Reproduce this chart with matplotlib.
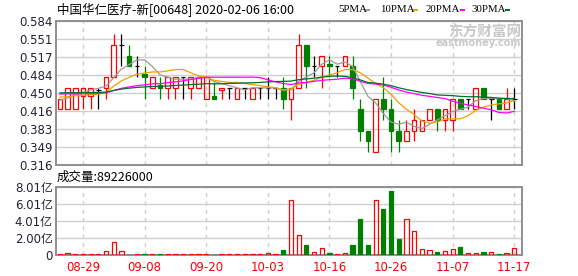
import numpy as np
import pandas as pd
import matplotlib
matplotlib.use('Agg')
import matplotlib.pyplot as plt
from matplotlib.patches import Rectangle

# ---------------- data ----------------
title = "中国华仁医疗-新[00648] 2020-02-06 16:00"
date_labels = ['08-29', '09-08', '09-20', '10-03', '10-16', '10-26', '11-07', '11-17']
date_index = [3, 11, 19, 27, 35, 43, 51, 59]

opens = [0.42, 0.42, 0.42, 0.445, 0.445, 0.455, 0.46, 0.48, 0.54, 0.52,
         0.50, 0.485, 0.46, 0.465, 0.46, 0.46, 0.48, 0.46, 0.46, 0.44,
         0.445, 0.455, 0.46, 0.44, 0.46, 0.44, 0.46, 0.46, 0.46, 0.46,
         0.44, 0.46, 0.54, 0.50, 0.50, 0.505, 0.50, 0.50, 0.50, 0.42,
         0.38, 0.34, 0.44, 0.42, 0.38, 0.36, 0.38, 0.38, 0.40, 0.42,
         0.40, 0.40, 0.44, 0.44, 0.42, 0.46, 0.44, 0.44, 0.42, 0.44]
highs = [0.44, 0.46, 0.46, 0.46, 0.46, 0.46, 0.48, 0.56, 0.56, 0.54,
         0.52, 0.50, 0.48, 0.48, 0.48, 0.48, 0.48, 0.48, 0.48, 0.48,
         0.47, 0.46, 0.46, 0.46, 0.46, 0.46, 0.46, 0.48, 0.46, 0.48,
         0.46, 0.56, 0.54, 0.52, 0.52, 0.52, 0.50, 0.52, 0.52, 0.44,
         0.38, 0.44, 0.48, 0.44, 0.40, 0.40, 0.42, 0.40, 0.42, 0.42,
         0.42, 0.44, 0.44, 0.44, 0.46, 0.46, 0.44, 0.44, 0.46, 0.46]
lows = [0.42, 0.42, 0.42, 0.42, 0.42, 0.42, 0.44, 0.48, 0.50, 0.50,
        0.48, 0.44, 0.46, 0.44, 0.44, 0.44, 0.44, 0.44, 0.46, 0.44,
        0.44, 0.44, 0.44, 0.44, 0.44, 0.44, 0.44, 0.44, 0.44, 0.42,
        0.40, 0.46, 0.46, 0.48, 0.46, 0.48, 0.48, 0.50, 0.44, 0.36,
        0.34, 0.34, 0.40, 0.34, 0.34, 0.36, 0.36, 0.38, 0.40, 0.38,
        0.38, 0.38, 0.42, 0.42, 0.42, 0.44, 0.40, 0.42, 0.42, 0.42]
closes = [0.44, 0.46, 0.46, 0.46, 0.46, 0.455, 0.48, 0.54, 0.54, 0.50,
          0.50, 0.48, 0.48, 0.46, 0.48, 0.48, 0.48, 0.48, 0.48, 0.48,
          0.44, 0.46, 0.46, 0.46, 0.46, 0.46, 0.46, 0.46, 0.46, 0.44,
          0.46, 0.54, 0.50, 0.50, 0.52, 0.50, 0.50, 0.52, 0.46, 0.38,
          0.36, 0.44, 0.42, 0.38, 0.36, 0.38, 0.40, 0.40, 0.42, 0.40,
          0.42, 0.44, 0.42, 0.44, 0.46, 0.44, 0.44, 0.42, 0.44, 0.44]
# closes before the visible window (only used for the moving averages)
prior_closes = [0.45, 0.46, 0.45, 0.46, 0.45, 0.46, 0.45, 0.46, 0.45,
                0.46, 0.45, 0.46, 0.45, 0.46, 0.45, 0.46, 0.45, 0.46,
                0.45, 0.45,
                0.45, 0.445, 0.45, 0.445, 0.45,
                0.44, 0.43, 0.44, 0.435]
volumes = [1.2e7, 2.5e7, 1.0e7, 1.0e7, 1.0e7, 1.0e7, 4.7e7, 1.52e8, 4.7e7, 0.8e7,
           1.0e7, 1.0e7, 1.0e7, 1.0e7, 1.0e7, 1.0e7, 1.0e7, 1.0e7, 1.0e7, 1.0e7,
           0.8e7, 1.0e7, 1.0e7, 1.0e7, 1.0e7, 1.0e7, 1.0e7, 2.5e7, 1.0e7, 5.8e7,
           6.42e8, 2.41e8, 1.17e8, 4.3e7, 9.0e7, 2.3e7, 1.0e7, 3.1e7, 1.17e8, 4.22e8,
           1.17e8, 6.40e8, 5.38e8, 7.48e8, 1.87e8, 4.28e8, 2.88e8, 7.8e7, 6.6e7, 3.5e7,
           5.4e7, 7.8e7, 9.3e7, 3.1e7, 3.1e7, 3.5e7, 4.3e7, 1.2e7, 3.1e7, 89226000]
last_volume = 89226000
price_tick_labels = ['0.316', '0.349', '0.383', '0.416', '0.450', '0.484', '0.517', '0.551', '0.584']
price_min, price_max = 0.316, 0.584
vol_max = 8.01e8
vol_tick_labels = ['0', '2.00亿', '4.01亿', '6.01亿', '8.01亿']
ma_periods = [5, 10, 20, 30]
ma_names = ['5PMA', '10PMA', '20PMA', '30PMA']

# ---------------- style ----------------
RED = '#ff0000'
GREEN = '#007f00'
MA_COLORS = ['#9b9b9b', '#f0a000', '#ff00ff', '#006e2e']
BORDER = '#8f8f8f'
GRID = '#cfcfcf'
TXT = '#222233'

W, H = 578, 276
fig = plt.figure(figsize=(W / 100, H / 100), dpi=100)


def fx(x):
    return x / W


def fy(y):
    return 1 - y / H


ax = fig.add_axes([fx(56), fy(165.0), fx(522) - fx(56), fy(21.3) - fy(165.0)])
axv = fig.add_axes([fx(56), fy(255.3), fx(522) - fx(56), fy(186.7) - fy(255.3)])

n = len(closes)
xs = np.arange(n)
bw = 0.6

for a in (ax, axv):
    a.set_xlim(-0.5, n)
    for s in a.spines.values():
        s.set_color(BORDER)
        s.set_linewidth(1.4)
    a.set_axisbelow(True)
    a.set_xticks(date_index)
    a.xaxis.grid(True, color=GRID, ls=(0, (3, 3)), lw=1.0)
    a.yaxis.grid(True, color=GRID, ls='-', lw=1.0)
    a.tick_params(length=0)

# price axis
ax.set_ylim(price_min, price_max)
ax.set_yticks(np.linspace(price_min, price_max, len(price_tick_labels)))
ax.set_yticklabels(price_tick_labels, fontsize=8.5, color=TXT, family='DejaVu Sans')
ax.tick_params(axis='y', pad=2.5)
ax.set_xticklabels([])

for i in range(n):
    o, h, l, c = opens[i], highs[i], lows[i], closes[i]
    if c > o:
        ax.add_patch(Rectangle((i - bw / 2, o), bw, c - o, fill=False, ec=RED, lw=0.9, zorder=3))
        if h > c:
            ax.vlines(i, c, h, color=RED, lw=0.9, zorder=3)
        if l < o:
            ax.vlines(i, l, o, color=RED, lw=0.9, zorder=3)
    elif c < o:
        ax.vlines(i, l, h, color=GREEN, lw=0.9, zorder=3)
        ax.add_patch(Rectangle((i - bw / 2, c), bw, o - c, fc=GREEN, ec=GREEN, lw=0.9, zorder=3))
    else:
        ax.vlines(i, l, h, color='black', lw=0.9, zorder=3)
        ax.hlines(o, i - bw / 2, i + bw / 2, color='black', lw=0.9, zorder=3)

all_closes = pd.Series(prior_closes + closes)
for p, col in zip(ma_periods, MA_COLORS):
    ma = all_closes.rolling(p).mean().to_numpy()[-n:]
    ax.plot(xs, ma, color=col, lw=0.9, zorder=4)

# volume axis
axv.set_ylim(0, vol_max)
axv.set_yticks(np.linspace(0, vol_max, len(vol_tick_labels)))
axv.set_yticklabels(vol_tick_labels, fontsize=8.5, color=TXT, family=['DejaVu Sans', 'Noto Sans CJK SC'])
axv.tick_params(axis='y', pad=2.5)
axv.set_xticklabels(date_labels, fontsize=8.5, color=RED, family='DejaVu Sans')
axv.tick_params(axis='x', pad=4)

vbw = 0.55
for i in range(n):
    v = volumes[i]
    if closes[i] >= opens[i]:
        axv.add_patch(Rectangle((i - vbw / 2, 0), vbw, v, fill=False, ec=RED, lw=0.9, zorder=3))
    else:
        axv.add_patch(Rectangle((i - vbw / 2, 0), vbw, v, fc=GREEN, ec=GREEN, lw=0.9, zorder=3))

# ---------------- texts ----------------
fig.text(fx(57), fy(9.5), title, fontsize=9, color='black', va='center', ha='left',
         family=['Noto Sans CJK SC', 'DejaVu Sans'])

legend_x = [338, 380, 426, 471]
dash_x = [365, 413, 460, 505]
for name, lx, dx, col in zip(ma_names, legend_x, dash_x, MA_COLORS):
    fig.text(fx(lx), fy(9.5), name, fontsize=7.8, color='black', va='center', ha='left',
             family='Liberation Serif')
    fig.add_artist(Rectangle((fx(dx), fy(11)), fx(5), fy(8.6) - fy(11), transform=fig.transFigure,
                             fc=col, ec='none'))

fig.text(fx(57), fy(177.5), '成交量:' + str(last_volume), fontsize=9, color='black', va='center',
         ha='left', family=['Noto Sans CJK SC', 'DejaVu Sans'])

# watermark
fig.text(fx(521), fy(31.5), '东方财富网', fontsize=10.5, color='#c9c9c9', va='center', ha='right',
         family='Noto Sans CJK SC', weight='bold', zorder=1)
fig.text(fx(521), fy(43.5), 'eastmoney.com', fontsize=7, color='#c9c9c9', va='center', ha='right',
         family='DejaVu Sans', weight='bold', zorder=1)

fig.savefig('out.png', dpi=100)
